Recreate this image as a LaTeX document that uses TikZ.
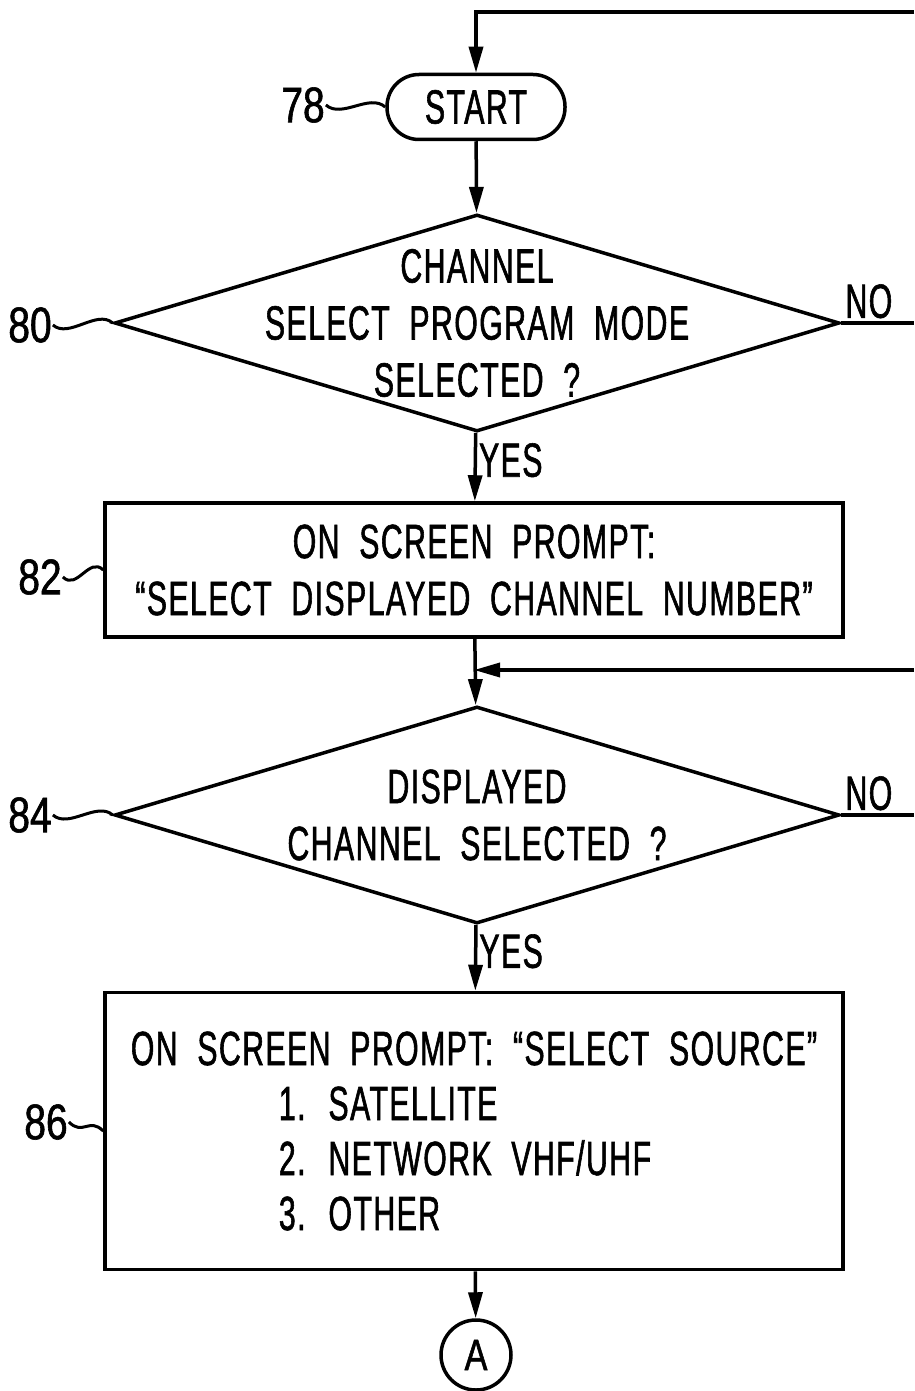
\documentclass[tikz,border=0pt]{standalone}
\usepackage{fontspec}
\setmainfont{Liberation Sans}[FakeStretch=0.63,FakeBold=1.2,LetterSpace=3,WordSpace=2]
\newfontfamily\numfont{Liberation Sans}[FakeStretch=0.78,FakeBold=1.2]
\usetikzlibrary{arrows.meta,positioning,shapes.geometric}

\begin{document}
\begin{tikzpicture}[x=1pt,y=-1pt,
font=\fontsize{48}{57}\selectfont,
term/.style={draw,line width=3.5pt,rounded corners=32pt,minimum width=178pt,minimum height=65pt},
dec/.style={draw,diamond,line width=3.5pt,minimum width=725pt,minimum height=217pt,inner sep=0pt},
box/.style={draw,line width=3.5pt,minimum width=738pt,align=center,inner sep=0pt},
conn/.style={draw,circle,line width=3.5pt,minimum size=70pt,inner sep=0pt,font=\numfont\fontsize{44}{48}\selectfont},
arr/.style={-{Triangle[length=26pt,width=14pt]},line width=3.5pt},
wire/.style={line width=3.5pt},
ref/.style={inner sep=1pt,font=\numfont\fontsize{50}{57}\selectfont},
squig/.style={line width=3pt}
]
\useasboundingbox (0,0) rectangle (914,1391);
% steps
\node[term] (start) at (476,107) {START};
\node[dec,label={[align=center]center:{CHANNEL\\SELECT PROGRAM MODE\\SELECTED ?}}] (q80) at (477,323) {};
\node[box,minimum height=134pt] (p82) at (474,570) {ON SCREEN PROMPT:\\“SELECT DISPLAYED CHANNEL NUMBER”};
\node[dec,label={[align=center]center:{DISPLAYED\\CHANNEL SELECTED ?}}] (q84) at (477,815) {};
\node[box,minimum height=277pt,align=left,font=\fontsize{48}{55}\selectfont] (p86) at (474,1131) {ON SCREEN PROMPT: “SELECT SOURCE”\\\hspace*{148pt}1. SATELLITE\\\hspace*{148pt}2. NETWORK VHF/UHF\\\hspace*{148pt}3. OTHER};
\node[conn] (a) at (476,1355) {A};
% reference numerals
\node[ref] (n78) at (303,105) {78};
\node[ref] (n80) at (30,325) {80};
\node[ref] (n82) at (40,577) {82};
\node[ref] (n84) at (30,815) {84};
\node[ref] (n86) at (46,1122) {86};
\draw[squig] (n78.east) .. controls +(16,14) and +(-16,-14) .. (start.west);
\draw[squig] (n80.east) .. controls +(16,14) and +(-16,-14) .. (q80.west);
\draw[squig] (n82.east) .. controls +(14,14) and +(-14,-14) .. (p82.west);
\draw[squig] (n84.east) .. controls +(16,14) and +(-16,-14) .. (q84.west);
\draw[squig] (n86.east) .. controls +(14,14) and +(-14,-14) .. (p86.west);
% loose ends at the right
\coordinate (top) at (914,12);
\coordinate (no80) at (914,323);
\coordinate (back84) at (914,670);
\coordinate (no84) at (914,815);
% connectors
\draw[arr] (top) -| (start.north);
\draw[arr] (start) -- (q80);
\draw[wire] (q80.east) -- node[above,pos=0.38,inner sep=3pt]{NO} (no80);
\draw[arr] (q80) -- node[right,pos=0.4,inner sep=2pt]{YES} (p82);
\draw[arr] (p82) -- (q84);
\draw[arr] (back84) -- (p82.south |- back84);
\draw[wire] (q84.east) -- node[above,pos=0.38,inner sep=3pt]{NO} (no84);
\draw[arr] (q84) -- node[right,pos=0.4,inner sep=2pt]{YES} (p86);
\draw[arr] (p86) -- (a);
\end{tikzpicture}
\end{document}
